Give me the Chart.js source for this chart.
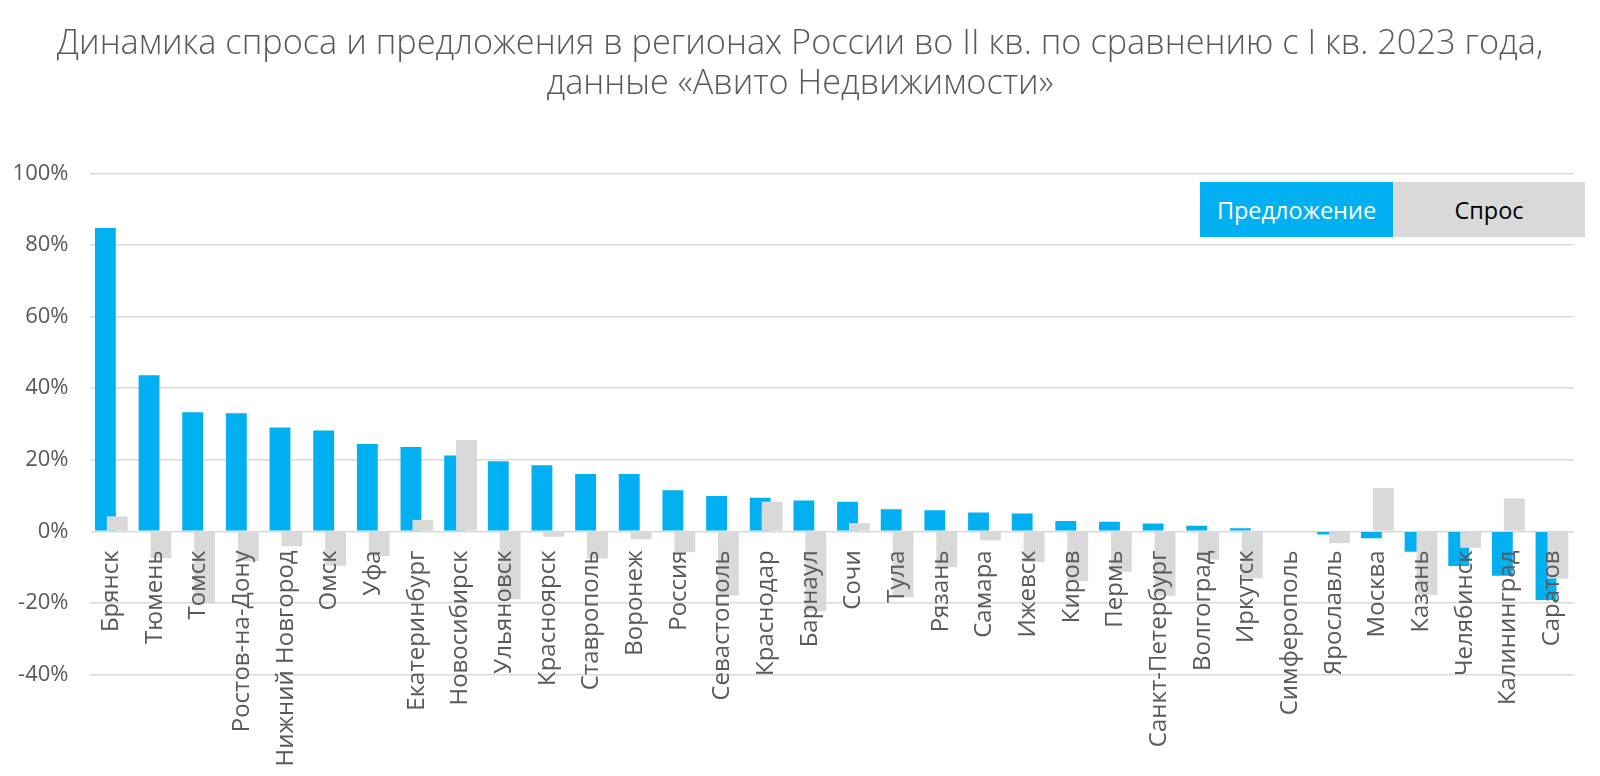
<!DOCTYPE html>
<html>
<head>
<meta charset="utf-8">
<script src="https://cdn.jsdelivr.net/npm/chart.js@4/dist/chart.umd.min.js"></script>
<style>
  html, body { margin: 0; padding: 0; background: #fff; }
  #wrap { position: relative; width: 1600px; height: 776px; }
  #legend { position: absolute; left: 1200px; top: 182px; width: 385px; height: 55px; display: flex; font-family: 'Open Sans', sans-serif; font-size: 23.5px; }
  #legend div { display: flex; align-items: center; justify-content: center; height: 100%; }
  #lg-supply { width: 193px; background: #00B0F0; color: #fff; }
  #lg-demand { width: 192px; background: #D9D9D9; color: #000; }
</style>
</head>
<body>
<div id="wrap">
  <canvas id="c"></canvas>
  <div id="legend"><div id="lg-supply">Предложение</div><div id="lg-demand">Спрос</div></div>
</div>
<script>
const cities = ['Брянск','Тюмень','Томск','Ростов-на-Дону','Нижний Новгород','Омск','Уфа','Екатеринбург','Новосибирск','Ульяновск','Красноярск','Ставрополь','Воронеж','Россия','Севастополь','Краснодар','Барнаул','Сочи','Тула','Рязань','Самара','Ижевск','Киров','Пермь','Санкт-Петербург','Волгоград','Иркутск','Симферополь','Ярославль','Москва','Казань','Челябинск','Калининград','Саратов'];
const supply = [84.8, 43.6, 33.3, 33.0, 29.0, 28.2, 24.4, 23.6, 21.2, 19.6, 18.5, 16.0, 16.0, 11.5, 9.9, 9.4, 8.6, 8.3, 6.2, 5.9, 5.3, 5.0, 2.9, 2.7, 2.2, 1.6, 0.9, 0, -0.9, -1.9, -5.7, -9.7, -12.4, -19.2];
const demand = [4.2, -7.5, -20.2, -8.3, -4.2, -9.6, -6.9, 3.2, 25.5, -19.0, -1.5, -7.6, -2.2, -5.8, -17.9, 8.3, -22.3, 2.3, -18.4, -10.0, -2.5, -8.6, -13.9, -11.3, -18.0, -7.9, -13.2, 0, -3.3, 12.1, -17.8, -4.6, 9.2, -13.2];
const titleLines = ['Динамика спроса и предложения в регионах России во II кв. по сравнению с I кв. 2023 года,', 'данные «Авито Недвижимости»'];
const yMin = -40, yMax = 100, yStep = 20;

const FONT = "'Open Sans', sans-serif";
const TXT = '#595959';
const GRID = '#D9D9D9';

// draw the "Спрос" series on top of "Предложение"
const drawOrder = {
  id: 'drawOrder',
  beforeDatasetDraw(chart, args) { if (args.index === 1) return false; },
  afterDatasetsDraw(chart) { chart.getDatasetMeta(1).controller.draw(); }
};

new Chart(document.getElementById('c'), {
  type: 'bar',
  data: {
    labels: cities,
    datasets: [
      { label: 'Предложение', data: supply, backgroundColor: '#00B0F0', borderWidth: 0 },
      { label: 'Спрос', data: demand, backgroundColor: '#D9D9D9', borderWidth: 0 }
    ]
  },
  options: {
    responsive: true,
    maintainAspectRatio: false,
    animation: false,
    categoryPercentage: 0.5457,
    barPercentage: 1.75,
    layout: { padding: { left: 15, right: 15, top: 0, bottom: 101.5 } },
    plugins: {
      legend: { display: false },
      tooltip: { enabled: false },
      title: {
        display: true,
        text: titleLines,
        color: TXT,
        font: { family: FONT, size: 34.3, weight: 300, lineHeight: 1.166 },
        padding: { top: 24.5, bottom: 69 }
      }
    },
    scales: {
      x: {
        type: 'category',
        position: { y: 0 },
        grid: { display: false, drawTicks: false },
        border: { display: false },
        ticks: {
          z: 1,
          autoSkip: false, minRotation: 90, maxRotation: 90, padding: 19,
          color: TXT, font: { family: FONT, size: 24 }
        }
      },
      y: {
        min: yMin, max: yMax,
        afterFit(scale) { scale.width = 74.5; },
        grid: { color: GRID, lineWidth: 1.5, drawTicks: false },
        border: { display: false },
        ticks: {
          stepSize: yStep, padding: 21, color: TXT,
          font: { family: FONT, size: 22 },
          callback: v => v + '%'
        }
      }
    }
  },
  plugins: [drawOrder]
});
</script>
</body>
</html>
